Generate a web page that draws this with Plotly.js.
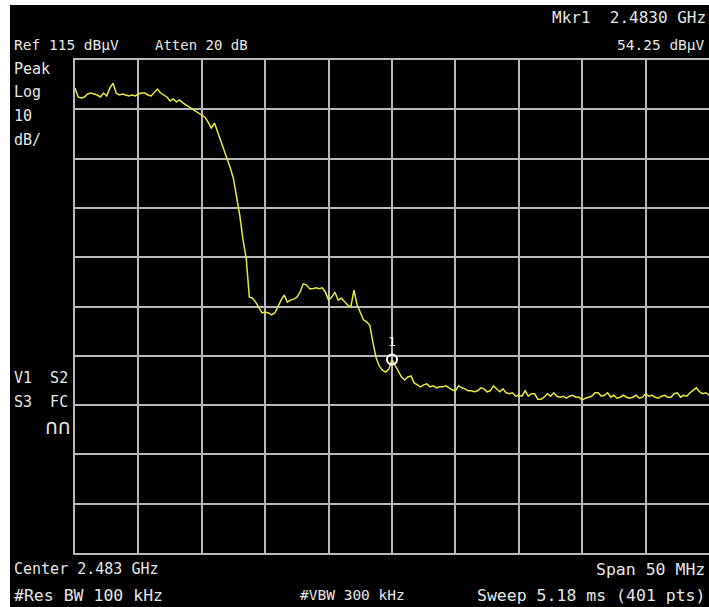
<!DOCTYPE html>
<html>
<head>
<meta charset="utf-8">
<script src="https://cdn.plot.ly/plotly-3.0.1.min.js"></script>
<style>
  html, body { margin: 0; padding: 0; background: #ffffff; width: 709px; height: 607px; overflow: hidden; }
  #chart { position: absolute; left: 10px; top: 5px; width: 699px; height: 602px; }
</style>
</head>
<body>
<div id="chart"></div>
<script>
// Sweep settings (MHz)
const centerMHz = 2483;
const spanMHz = 50;
const refLevel = 115;       // dBµV, top of screen
const dbPerDiv = 10;

// Trace levels (dBµV), one every 0.25 MHz across the span (201 points)
const traceLevels = [
  109.3, 107.5, 107.3, 107.5, 108.1, 108.3, 108.1, 107.9, 107.5, 108.3,
  107.7, 109.3, 110.3, 108.3, 107.9, 108.1, 107.9, 107.7, 107.9, 107.7,
  108.1, 108.3, 108.3, 107.9, 107.7, 108.3, 109.1, 108.3, 107.9, 107.5,
  106.7, 107.1, 106.5, 106.9, 106.3, 105.9, 105.5, 105.1, 104.7, 104.2,
  103.8, 103.4, 102.4, 101.2, 102.2, 100.4, 98.4, 96.5, 95.1, 93.1,
  90.9, 87.0, 83.4, 78.5, 74.8, 66.9, 66.7, 65.9, 64.9, 63.7,
  63.9, 63.7, 63.3, 63.7, 64.9, 66.3, 67.3, 65.9, 66.3, 66.5,
  66.9, 67.9, 69.6, 69.4, 68.6, 68.6, 68.8, 68.6, 68.8, 67.9,
  66.3, 66.9, 67.9, 66.3, 66.7, 65.9, 65.3, 64.9, 68.3, 65.3,
  63.7, 62.3, 61.9, 61.2, 57.6, 54.6, 52.9, 52.1, 51.7, 52.3,
  54.25, 53.1, 51.7, 50.7, 50.1, 50.7, 50.9, 49.5, 49.1, 48.7,
  49.1, 49.3, 48.7, 48.9, 48.5, 48.7, 48.7, 48.9, 48.5, 48.1,
  47.9, 48.9, 48.5, 48.3, 47.9, 47.9, 47.7, 47.9, 48.5, 48.3,
  47.7, 47.9, 48.9, 48.3, 47.7, 48.3, 47.5, 47.3, 47.5, 46.8,
  47.0, 46.8, 47.9, 46.8, 47.3, 47.3, 46.2, 46.2, 46.6, 47.3,
  46.8, 47.5, 46.8, 46.6, 46.8, 46.4, 46.8, 47.0, 46.6, 46.6,
  46.0, 46.4, 46.6, 46.8, 47.5, 47.5, 46.8, 47.0, 47.5, 46.6,
  47.0, 46.4, 46.6, 47.0, 46.6, 46.4, 46.6, 47.0, 46.4, 46.6,
  47.3, 46.8, 47.0, 46.6, 46.4, 46.8, 47.0, 46.6, 46.6, 47.3,
  47.5, 46.6, 47.0, 46.8, 47.5, 48.1, 48.5, 47.7, 47.3, 47.5,
  47.0
];

// Marker 1
const markerFreq = [2483.0];
const markerLevel = [54.25];
const markerLabel = ["1"];

// Screen annotation texts
const topTexts = ["Ref 115 dBµV", "Atten 20 dB", "Mkr1  2.4830 GHz", "54.25 dBµV"];
const sideTexts = ["Peak", "Log", "10", "dB/"];
const statusTexts = ["V1  S2", "S3  FC", "∩∩"];
const bottomTexts = ["Center 2.483 GHz", "Span 50 MHz", "#Res BW 100 kHz", "#VBW 300 kHz", "Sweep 5.18 ms (401 pts)"];

const startMHz = centerMHz - spanMHz / 2;
const stopMHz = centerMHz + spanMHz / 2;
const step = spanMHz / (traceLevels.length - 1);
const traceFreq = traceLevels.map((_, i) => startMHz + i * step);

function ann(text, x, y, xanchor, size) {
  return { text: text, x: x, y: y, xref: "paper", yref: "paper", xanchor: xanchor || "left",
           yanchor: "middle", showarrow: false,
           font: { family: "DejaVu Sans Mono, monospace", size: size || 15, color: "#e6e6e6" } };
}

const annotations = [
  ann(topTexts[0], -0.0994, 1.0304, "left", 14.5),
  ann(topTexts[1], 0.1230, 1.0304, "left", 14),
  ann(topTexts[2], 0.9985, 1.0872, "right", 16),
  ann(topTexts[3], 0.9968, 1.0304, "right", 14.5),
  ann(sideTexts[0], -0.0994, 0.9817),
  ann(sideTexts[1], -0.0994, 0.9351),
  ann(sideTexts[2], -0.0994, 0.8864),
  ann(sideTexts[3], -0.0994, 0.8377),
  ann(statusTexts[0], -0.0994, 0.3550),
  ann(statusTexts[1], -0.0994, 0.3063),
  ann(statusTexts[2], -0.0500, 0.2556, "left", 21),
  ann(bottomTexts[0], -0.0994, -0.0325, "left", 15),
  ann(bottomTexts[1], 0.9968, -0.0325, "right", 16.5),
  ann(bottomTexts[2], -0.0994, -0.0852, "left", 16.5),
  ann(bottomTexts[3], 0.3517, -0.0852, "left", 14.5),
  ann(bottomTexts[4], 0.9968, -0.0852, "right", 16.5),
  { text: markerLabel[0], x: markerFreq[0], y: markerLevel[0], xref: "x", yref: "y",
    showarrow: false, yshift: 18, font: { family: "DejaVu Sans Mono, monospace", size: 13, color: "#ffffff" } }
];

const data = [
  { x: traceFreq, y: traceLevels, type: "scatter", mode: "lines",
    line: { color: "#e8e83c", width: 1.5 }, hoverinfo: "skip" },
  { x: markerFreq, y: markerLevel, type: "scatter", mode: "markers",
    marker: { symbol: "circle-open", size: 10, color: "#ffffff", line: { width: 2, color: "#ffffff" } } }
];

const gridColor = "#b8b8b8";
const layout = {
  width: 699, height: 602,
  margin: { l: 65, r: 0, t: 55, b: 54 },
  paper_bgcolor: "#000000", plot_bgcolor: "#000000",
  showlegend: false,
  xaxis: { range: [startMHz, stopMHz], dtick: spanMHz / 10, tick0: startMHz, showticklabels: false,
           ticks: "", showgrid: true, gridcolor: gridColor, gridwidth: 2, zeroline: false,
           showline: true, linecolor: gridColor, linewidth: 2, mirror: true, fixedrange: true },
  yaxis: { range: [refLevel - 10 * dbPerDiv, refLevel], dtick: dbPerDiv, tick0: refLevel, showticklabels: false,
           ticks: "", showgrid: true, gridcolor: gridColor, gridwidth: 2, zeroline: false,
           showline: true, linecolor: gridColor, linewidth: 2, mirror: true, fixedrange: true },
  annotations: annotations
};

Plotly.newPlot("chart", data, layout, { displayModeBar: false, staticPlot: true });
</script>
</body>
</html>
